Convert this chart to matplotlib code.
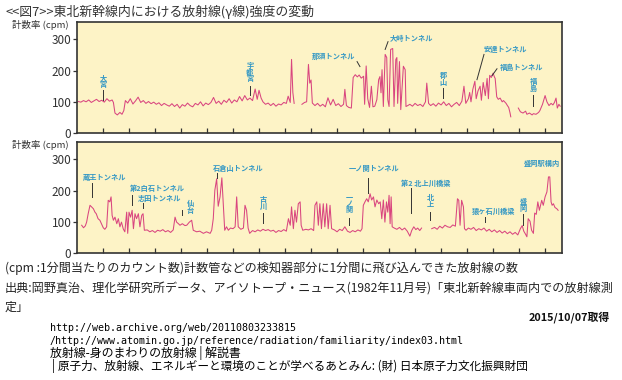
import numpy as np
import matplotlib
matplotlib.use('Agg')
import matplotlib.pyplot as plt

plt.rcParams['font.family'] = ['Noto Sans CJK JP', 'DejaVu Sans']

nan = float('nan')

# upper section: Omiya -> Fukushima (x = position along the line, cpm = count rate)
top_x = [0.5, 1.5, 2.5, 3.5, 4.5, 5.5, 6.5, 7.5, 8.5, 9.5, 10.5, 11.5, 12.5, 13.5, 14,
         14.6, 15.5, 16.5, 17.3, 18, 18.6, 19.5, 20.5, 21.5, 22.5, 23.5, 24.5, 25.5, 26.5,
         27.5, 28.5, 29.5, 30.5, 31.5, 32.5, 33.5, 34.5, 35.5, 36.5, 37.5, 38.5, 39.5, 40.5,
         41.5, 42.5, 43.5, 44.5, 45.5, 46.5, 47.5, 48.5, 49.5, 50.5, 51.5, 52.5, 53.5, 54.5,
         55.5, 56.5, 57.5, 58.5, 59.5, 60.5, 61.5, 62.5, 63.5, 64.5, 65.5, 66.5, 67.5, 68.5,
         69.3, 70, 70.8, 71.5, 72.5, 73.5, 74.5, 75.5, 76.5, 77.5, 78.5, 79.5, 80.5, 81.2,
         82, 82.5, 83, 83.5, 85, 86.5, 87.5, 88.3, 89, 89.5, 90, 90.5, 91.5, 92.5, 93.5,
         94.5, 95.5, 96.5, 97.5, 98.5, 99.5, 100.5, 101.5, 102.5, 103, 103.6, 104.5, 105.5,
         106.2, 107, 107.8, 108.5, 109.3, 110.2, 110.6, 111.2, 111.8, 112.5, 113.2, 113.8,
         114.5, 115.3, 116, 116.5, 116.9, 117.3, 117.8, 118.5, 119.1, 119.5, 120, 120.6,
         121.4, 121.9, 122.6, 123, 123.3, 124, 124.5, 125.5, 126.2, 126.5, 127.2, 128, 129,
         130, 131, 132, 133, 134, 134.5, 135.2, 136, 137, 138, 139, 140, 141, 142, 143, 144,
         145, 146, 147, 148, 148.8, 149.5, 150.5, 151, 151.5, 152.2, 153, 153.5, 154.2, 155,
         155.5, 156.2, 157, 157.7, 158.2, 158.7, 159.3, 160, 160.5, 160.8, 161.4, 162, 162.7,
         163.5, 164, 165, 165.5, 166, 166.5, 166.8, 168, 169.7, 170.5, 171.5, 172.5, 173,
         174, 175, 175.5, 176.5, 177.5, 178, 179, 180, 180.7, 181.5, 182.3, 183, 183.6,
         184.2, 184.7, 185.3, 185.8]
top_cpm = [101, 99, 104, 100, 106, 98, 103, 108, 101, 105, 99, 110, 102, 106, 98,
           64, 58, 66, 60, 72, 104, 96, 110, 93, 103, 115, 98, 104, 95,
           101, 94, 99, 92, 97, 88, 95, 90, 86, 94, 85, 92, 80, 91,
           86, 96, 88, 84, 95, 90, 100, 87, 96, 91, 98, 114, 95, 102,
           92, 105, 98, 110, 96, 106, 100, 117, 103, 120, 106, 112, 104, 141,
           108, 137, 112, 100, 92, 96, 88, 95, 86, 93, 90, 98, 95, 118,
           98, 236, 130, 95, nan, 92, 98, 100, 220, 160, 170, 96, 88, 95, 86,
           92, 84, 113, 90, 108, 88, 94, 85, 92, 140, 88, 82, 80,
           178, 187, 180, 186, 176, 182, 92, 215, 110, 82, 150, 84,
           86, 107, 171, 181, 129, 203, 85, 252, 242, 107, 85, 268,
           271, 85, 236, 242, 95, 229, 75, 214, 203, 85, 88, 92, 86,
           95, 88, 92, 85, 100, 160, 95, 88, 94, 86, 96, 90, 100, 88, 95, 84,
           92, 98, 88, 102, 150, 95, 110, 130, 100, 140, 166, 110, 135, 150,
           105, 162, 120, 175, 110, 185, 178, 192, 180, 175, 116, 108, 112,
           100, 104, 95, 88, 82, 65, 52, nan, 80, 68, 64, 70, 60,
           64, 58, 62, 60, 66, 72, 92, 120, 100, 88, 95, 90, 98,
           112, 80, 92, 86]

# lower section: Zao tunnel -> Morioka
bot_x = [1.8, 2.5, 3.2, 3.7, 4.3, 5, 5.6, 6.3, 6.9, 7.4, 8.1, 8.8, 9.4, 10.1, 10.7, 11.4,
         12, 12.6, 13.1, 13.5, 14, 14.6, 15.3, 15.9, 16.5, 17.1, 17.8, 18.4, 19.1, 19.5, 20,
         20.6, 21.2, 21.7, 22.3, 22.9, 23.6, 24.2, 24.9, 25.4, 25.9, 27, 28, 29, 30, 31, 32,
         33, 34, 35, 36, 37, 37.7, 38.3, 39, 39.6, 40.5, 41.5, 42.2, 43.2, 44.1, 44.7, 46,
         47.2, 48.6, 49.8, 51.2, 51.8, 52.4, 53, 53.7, 54.3, 55, 55.7, 56.3, 56.8, 57.5, 58.2,
         59, 60, 60.8, 61.4, 62, 63, 64, 64.6, 65.2, 65.8, 66.4, 67.5, 68.5, 69.5, 70.5, 71.5,
         72.5, 73.5, 74.5, 75.5, 76.5, 77.5, 78.5, 79.5, 80.5, 81.3, 82, 82.5, 83.2, 83.8,
         84.4, 85.1, 85.8, 86.2, 86.8, 88, 89, 90, 91, 91.5, 92.2, 92.8, 93.4, 94, 94.7, 95.3,
         96, 96.6, 97.3, 97.9, 99, 100, 101, 102, 103, 104, 105, 106, 107, 108, 109, 109.6,
         110.1, 110.8, 111.4, 112, 112.7, 113.3, 114, 114.6, 115.3, 116, 116.6, 117.2, 117.8,
         118.4, 119, 119.5, 120, 120.4, 120.8, 121.2, 122, 123, 124, 125, 126, 127, 128,
         128.7, 129.5, 130.3, 131, 131.8, 132.5, 134, 136.4, 137.5, 138.5, 139.5, 140.5,
         141.5, 142.5, 143.5, 144.5, 145.5, 146.3, 146.8, 147.3, 147.9, 148.6, 149, 149.6,
         150.5, 151.5, 152.5, 153.5, 154.5, 155.5, 156.5, 157.5, 158.5, 159.5, 160.5, 161.5,
         162.5, 163.5, 164.5, 165.5, 166.5, 167.5, 168.5, 169.5, 170.5, 171.2, 171.8, 172.5,
         173, 173.5, 174.2, 174.8, 175.5, 176, 176.6, 177.2, 177.8, 178.7, 179.3, 180, 180.7,
         181.3, 181.8, 182.3, 182.7, 183.2, 183.8, 184.5, 185]
bot_cpm = [89, 81, 87, 99, 126, 153, 148, 142, 131, 126, 110, 105, 94, 81, 76, 84,
           169, 164, 180, 121, 105, 115, 94, 110, 84, 99, 77, 68, 131, 63, 131,
           115, 137, 78, 126, 110, 126, 84, 121, 126, 73, 74, 68, 72, 66, 73, 70,
           75, 68, 72, 66, 74, 115, 99, 94, 89, 94, 88, 89, 99, 105, 73, 68,
           70, 63, 68, 63, 73, 110, 201, 238, 150, 180, 241, 148, 73, 84, 73,
           80, 78, 84, 180, 84, 76, 80, 153, 137, 80, 63, 72, 68, 74, 70, 76,
           72, 75, 70, 73, 66, 72, 69, 75, 70, 110, 89, 148, 78, 137,
           99, 158, 164, 89, 73, 76, 74, 78, 72, 153, 164, 89, 158, 78, 158, 84,
           158, 78, 153, 78, 74, 68, 76, 72, 84, 70, 66, 72, 68, 74, 70, 78,
           153, 165, 174, 164, 190, 170, 180, 148, 170, 158, 164, 110, 170,
           99, 164, 131, 185, 94, 180, 84, 80, 76, 82, 74, 80, 70, 54,
           72, 84, 75, 80, 72, 80, nan, 78, 82, 76, 86, 80,
           89, 84, 82, 90, 86, 174, 169, 89, 169, 148, 78, 73,
           80, 76, 82, 72, 78, 74, 80, 70, 76, 68, 74, 66,
           72, 64, 70, 62, 68, 60, 66, 58, 78, 88, 70, 60,
           52, 110, 102, 73, 63, 128, 124, 164, 137, 169, 153, 180, 196,
           244, 244, 164, 153, 158, 146, 142, 137]

# (text, x, y, leader x0, y0, x1, y1, vertical?)
top_labels = [
    ('大宮', 10, 166, 10, 139, 10, 106, True),
    ('宇都宮', 66.5, 195, 66.5, 152, 66.5, 123, True),
    ('那須トンネル', 98.8, 245, 107.7, 229, 108.8, 213, False),
    ('大峙トンネル', 128.5, 303, 119.6, 293, 118.5, 268, False),
    ('郡山', 140.8, 173, 140.8, 145, 140.8, 113, True),
    ('安達トンネル', 164.6, 268, 156.5, 252, 153.8, 171, False),
    ('福島トンネル', 170.8, 210, 161.5, 206, 159.6, 184, False),
    ('福島', 175.4, 153, 175.4, 123, 175.4, 87, True),
]
bot_labels = [
    ('蔵王トンネル', 10.8, 242, 5.8, 223, 5.8, 179, False),
    ('第2白石トンネル', 31, 207, 21, 185, 21, 153, False),
    ('志田トンネル', 31.9, 175, 25.5, 160, 25.5, 144, False),
    ('仙台', 43.5, 148, 40.4, 137, 40.4, 121, True),
    ('石倉山トンネル', 62, 271, 53.7, 258, 53.7, 239, False),
    ('古川', 71.5, 161, 71.5, 128, 71.5, 96, True),
    ('一ノ関', 104.6, 160, 104.6, 112, 104.6, 89, True),
    ('一ノ関トンネル', 114.2, 271, 112, 242, 112, 191, False),
    ('第2 北上川橋梁', 134, 223, 128.3, 210, 128.3, 128, False),
    ('北上', 135.8, 167, 135.8, 131, 135.8, 105, True),
    ('猿ヶ石川橋梁', 160.2, 134, 157, 115, 157, 99, False),
    ('盛岡', 171.5, 153, 171.5, 124, 171.5, 89, True),
    ('盛岡駅構内', 178.7, 287, None, None, None, None, False),
]

W, H = 622, 380
fig = plt.figure(figsize=(W / 100, H / 100), dpi=100)

def px_box(l, t, r, b):
    return [l / W, 1 - b / H, (r - l) / W, (b - t) / H]

panels = [
    (px_box(77, 22, 562, 133), top_x, top_cpm, top_labels, 24.5),
    (px_box(77, 142, 562, 253), bot_x, bot_cpm, bot_labels, 145),
]

for box, xs, ys, labels, ylab_y in panels:
    ax = fig.add_axes(box)
    ax.set_facecolor('#fdf3c6')
    ax.plot(xs, ys, color='#d9457f', lw=0.75)
    ax.set_xlim(0, 186.5)
    ax.set_ylim(0, 356)
    ax.set_xticks(np.arange(10, 181, 10))
    ax.set_xticklabels([])
    ax.set_yticks([0, 100, 200, 300])
    ax.tick_params(axis='x', direction='in', length=3.5, width=0.9, color='#333333')
    ax.tick_params(axis='y', direction='out', length=3, width=0.9, color='#333333',
                   labelsize=8.5, labelcolor='#333333', pad=1)
    for s in ax.spines.values():
        s.set_linewidth(1.2)
        s.set_color('#333333')
    for text, tx, ty, x0, y0, x1, y1, vert in labels:
        if vert:
            text = '\n'.join(text)
        ax.text(tx, ty, text, ha='center', va='center', fontsize=5.2, color='#3598c4',
                fontweight='bold', linespacing=0.95)
        if x0 is not None:
            ax.plot([x0, x1], [y0, y1], color='#333333', lw=0.7)
    fig.text(12 / W, 1 - ylab_y / H, '計数率 (cpm)', ha='left', va='center',
             fontsize=6.8, color='#333333')

def ftext(x, y, s, **kw):
    fig.text(x / W, 1 - y / H, s, va='center', **kw)

ftext(5, 11.5, '<<図7>>東北新幹線内における放射線(γ線)強度の変動', fontsize=9.3, color='#333333')
ftext(5, 268, '(cpm :1分間当たりのカウント数)計数管などの検知器部分に1分間に飛び込んできた放射線の数',
      fontsize=8.7, color='#222222')
ftext(5, 288, '出典:岡野真治、理化学研究所データ、アイソトープ・ニュース(1982年11月号)「東北新幹線車両内での放射線測',
      fontsize=8.7, color='#222222')
ftext(5, 307, '定」', fontsize=8.7, color='#222222')
ftext(610, 317, '2015/10/07取得', fontsize=7.8, fontweight='bold', ha='right', color='#111111')
mono = ['DejaVu Sans Mono', 'Noto Sans CJK JP']
ftext(50, 328, 'http://web.archive.org/web/20110803233815', fontsize=7.2, family=mono)
ftext(50, 341, '/http://www.atomin.go.jp/reference/radiation/familiarity/index03.html',
      fontsize=7.2, family=mono)
ftext(50, 353, '放射線-身のまわりの放射線 | 解説書', fontsize=8.6)
ftext(52, 366, '| 原子力、放射線、エネルギーと環境のことが学べるあとみん: (財) 日本原子力文化振興財団', fontsize=8.4)

fig.savefig('out.png', dpi=100)
